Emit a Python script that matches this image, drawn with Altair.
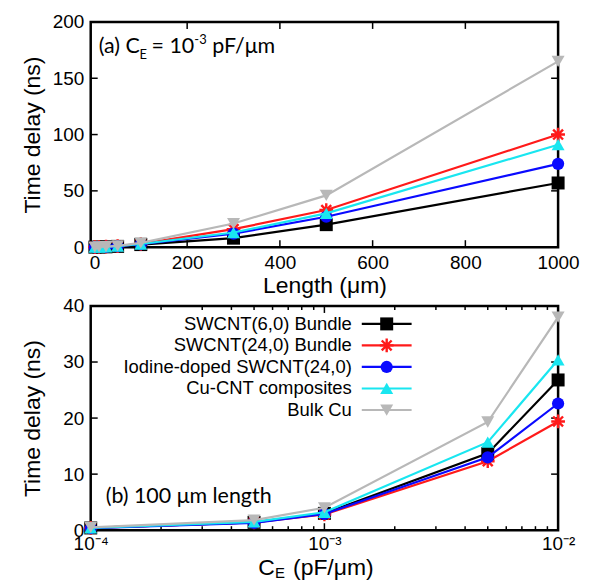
import altair as alt
import pandas as pd

# ---------------- data ----------------
series = ["SWCNT(6,0) Bundle", "SWCNT(24,0) Bundle", "Iodine-doped SWCNT(24,0)",
          "Cu-CNT composites", "Bulk Cu"]
colors = ["#000000", "#ff1a1a", "#0a0aff", "#19e6f0", "#b8b8b8"]

# panel (a): delay vs length at C_E = 1e-3 pF/um
lengths = [1, 10, 25, 50, 100, 300, 500, 1000]
delay_a = {
    "SWCNT(6,0) Bundle":        [0.02, 0.10, 0.30, 0.70, 2.3, 8, 20, 57],
    "SWCNT(24,0) Bundle":       [0.03, 0.15, 0.40, 0.90, 3.0, 16, 33, 100],
    "Iodine-doped SWCNT(24,0)": [0.02, 0.12, 0.30, 0.80, 2.6, 12, 27, 74],
    "Cu-CNT composites":        [0.03, 0.13, 0.35, 0.85, 2.8, 13, 30, 91],
    "Bulk Cu":                  [0.03, 0.20, 0.50, 1.10, 3.8, 21, 46, 165],
}

# panel (b): delay vs C_E at 100 um length
ce = [1e-4, 5e-4, 1e-3, 5e-3, 1e-2]
delay_b = {
    "SWCNT(6,0) Bundle":        [0.40, 1.4, 3.0, 13.7, 26.8],
    "SWCNT(24,0) Bundle":       [0.40, 1.4, 2.8, 12.3, 19.4],
    "Iodine-doped SWCNT(24,0)": [0.35, 1.3, 2.9, 13.0, 22.6],
    "Cu-CNT composites":        [0.40, 1.5, 3.2, 15.7, 30.4],
    "Bulk Cu":                  [0.50, 1.8, 4.0, 19.3, 38.0],
}

len_ticks = [0, 200, 400, 600, 800, 1000]
len_inner_ticks = [200, 400, 600, 800]
ya_ticks = [0, 50, 100, 150, 200]
ya_inner_ticks = [50, 100, 150]
ce_major = [1e-4, 1e-3, 1e-2]
ce_minor = [2e-4, 3e-4, 4e-4, 5e-4, 6e-4, 7e-4, 8e-4, 9e-4,
            2e-3, 3e-3, 4e-3, 5e-3, 6e-3, 7e-3, 8e-3, 9e-3]
yb_ticks = [0, 10, 20, 30, 40]
yb_inner_ticks = [10, 20, 30]

# ---------------- style ----------------
ASTERISK = "M-1,0L1,0M0,-1L0,1M-0.72,-0.72L0.72,0.72M-0.72,0.72L0.72,-0.72"
shapes = ["square", ASTERISK, "circle", "triangle-up", "triangle-down"]
sizes = [170, 190, 150, 170, 170]

W, HA, HB = 469, 226, 225
FONT = "Liberation Sans"
LFONT = "Lato"
LW = 2.2
TICK = 7
MINOR = 4

# ---------------- encodings ----------------
def x_a(field):
    return alt.X(f"{field}:Q", scale=alt.Scale(domain=[-8, 1000], nice=False, zero=False),
                 axis=alt.Axis(values=len_ticks, format="d", ticks=False, tickSize=0, domain=False,
                               grid=False, labelFontSize=19, labelPadding=6, labelFlush=False,
                               title="Length (μm)", titleFontSize=23, titleFontWeight="normal",
                               titlePadding=2))

def y_a(field):
    return alt.Y(f"{field}:Q", scale=alt.Scale(domain=[0, 200], nice=False),
                 axis=alt.Axis(values=ya_ticks, ticks=False, tickSize=0, domain=False, grid=False,
                               labelFontSize=19, labelPadding=7, minExtent=42, maxExtent=42,
                               title="Time delay (ns)", titleFontSize=23, titleFontWeight="normal",
                               titlePadding=4))

def x_b(field):
    return alt.X(f"{field}:Q", scale=alt.Scale(type="log", domain=[1e-4, 1e-2], nice=False),
                 axis=alt.Axis(values=ce_major, ticks=False, tickSize=0, domain=False, grid=False,
                               labelFontSize=19, labelPadding=4, labelFlush=False,
                               labelExpr="datum.value < 0.0005 ? '10⁻⁴' : (datum.value < 0.005 ? '10⁻³' : '10⁻²')",
                               title=None))

def y_b(field):
    return alt.Y(f"{field}:Q", scale=alt.Scale(domain=[0, 40], nice=False),
                 axis=alt.Axis(values=yb_ticks, ticks=False, tickSize=0, domain=False, grid=False,
                               labelFontSize=19, labelPadding=7, minExtent=42, maxExtent=42,
                               title="Time delay (ns)", titleFontSize=23, titleFontWeight="normal",
                               titlePadding=4))


def series_layers(xs, table, xenc, yenc):
    layers = []
    for i, s in enumerate(series):
        df = pd.DataFrame({"x": xs, "y": table[s]})
        line = alt.Chart(df).mark_line(color=colors[i], strokeWidth=LW).encode(x=xenc("x"), y=yenc("y"))
        if shapes[i] == ASTERISK:
            pt = alt.Chart(df).mark_point(shape=ASTERISK, filled=False, stroke=colors[i],
                                          strokeWidth=2.4, size=sizes[i], opacity=1)
        else:
            pt = alt.Chart(df).mark_point(shape=shapes[i], filled=True, color=colors[i],
                                          size=sizes[i], opacity=1)
        layers += [line, pt.encode(x=xenc("x"), y=yenc("y"))]
    return layers


def inner_ticks_x(vals, xenc, h, size, width=1.5):
    df = pd.DataFrame({"v": vals})
    bot = alt.Chart(df).mark_rule(color="black", strokeWidth=width).encode(
        x=xenc("v"), y=alt.value(h), y2=alt.value(h - size))
    top = alt.Chart(df).mark_rule(color="black", strokeWidth=width).encode(
        x=xenc("v"), y=alt.value(0), y2=alt.value(size))
    return [bot, top]


def inner_ticks_y(vals, yenc, size, width=1.5):
    df = pd.DataFrame({"v": vals})
    left = alt.Chart(df).mark_rule(color="black", strokeWidth=width).encode(
        y=yenc("v"), x=alt.value(0), x2=alt.value(size))
    right = alt.Chart(df).mark_rule(color="black", strokeWidth=width).encode(
        y=yenc("v"), x=alt.value(W), x2=alt.value(W - size))
    return [left, right]


one = pd.DataFrame({"a": [0]})

def txt(text, x, y, size, font=LFONT, align="left", baseline="alphabetic"):
    return alt.Chart(one).mark_text(text=text, font=font, fontSize=size, align=align,
                                    baseline=baseline, color="black").encode(
        x=alt.value(x), y=alt.value(y))

# ---------------- panel (a) ----------------
layers_a = []
layers_a += inner_ticks_x(len_inner_ticks, x_a, HA, TICK)
layers_a += inner_ticks_y(ya_inner_ticks, y_a, TICK)
layers_a += series_layers(lengths, delay_a, x_a, y_a)
layers_a += [
    txt("(a) C", 8, 31, 21.5),
    txt("E", 49, 37, 13),
    txt("= 10", 61, 31, 21.5),
    txt("-3", 104, 22, 13),
    txt("pF/μm", 122, 31, 21.5),
]
panel_a = alt.layer(*layers_a).properties(width=W, height=HA)

# ---------------- panel (b) ----------------
layers_b = []
layers_b += inner_ticks_x(ce_minor, x_b, HB, MINOR)
layers_b += inner_ticks_x([1e-3], x_b, HB, TICK)
layers_b += inner_ticks_y(yb_inner_ticks, y_b, TICK)
layers_b += series_layers(ce, delay_b, x_b, y_b)

# legend (inside, labels right-aligned left of the samples)
LEG_TEXT_X, LEG_L0, LEG_L1, LEG_M = 262, 272, 322, 297
for i, s in enumerate(series):
    yy = 18 + i * 21.6
    layers_b.append(txt(s, LEG_TEXT_X, yy, 18.5, font=FONT, align="right", baseline="middle"))
    layers_b.append(alt.Chart(one).mark_rule(color=colors[i], strokeWidth=LW).encode(
        x=alt.value(LEG_L0), x2=alt.value(LEG_L1), y=alt.value(yy)))
    if shapes[i] == ASTERISK:
        m = alt.Chart(one).mark_point(shape=ASTERISK, filled=False, stroke=colors[i],
                                      strokeWidth=2.4, size=sizes[i], opacity=1)
    else:
        m = alt.Chart(one).mark_point(shape=shapes[i], filled=True, color=colors[i],
                                      size=sizes[i], opacity=1)
    layers_b.append(m.encode(x=alt.value(LEG_M), y=alt.value(yy)))

layers_b += [
    txt("(b) 100 μm length", 15, 198, 21.5),
    txt("C", 168, 270, 23, font=FONT),
    txt("E", 185, 273, 15, font=FONT),
    txt("(pF/μm)", 203, 270, 23, font=FONT),
]
panel_b = alt.layer(*layers_b).properties(width=W, height=HB)

chart = alt.vconcat(panel_a, panel_b, spacing=59, bounds="flush").properties(
    padding={"left": 12, "top": 2, "right": 5, "bottom": 0}
).configure_view(stroke="black", strokeWidth=2.5).configure_axis(
    labelFont=FONT, titleFont=FONT, labelColor="black", titleColor="black"
)

chart.save("out.html", embed_options={"renderer": "svg", "actions": False})
